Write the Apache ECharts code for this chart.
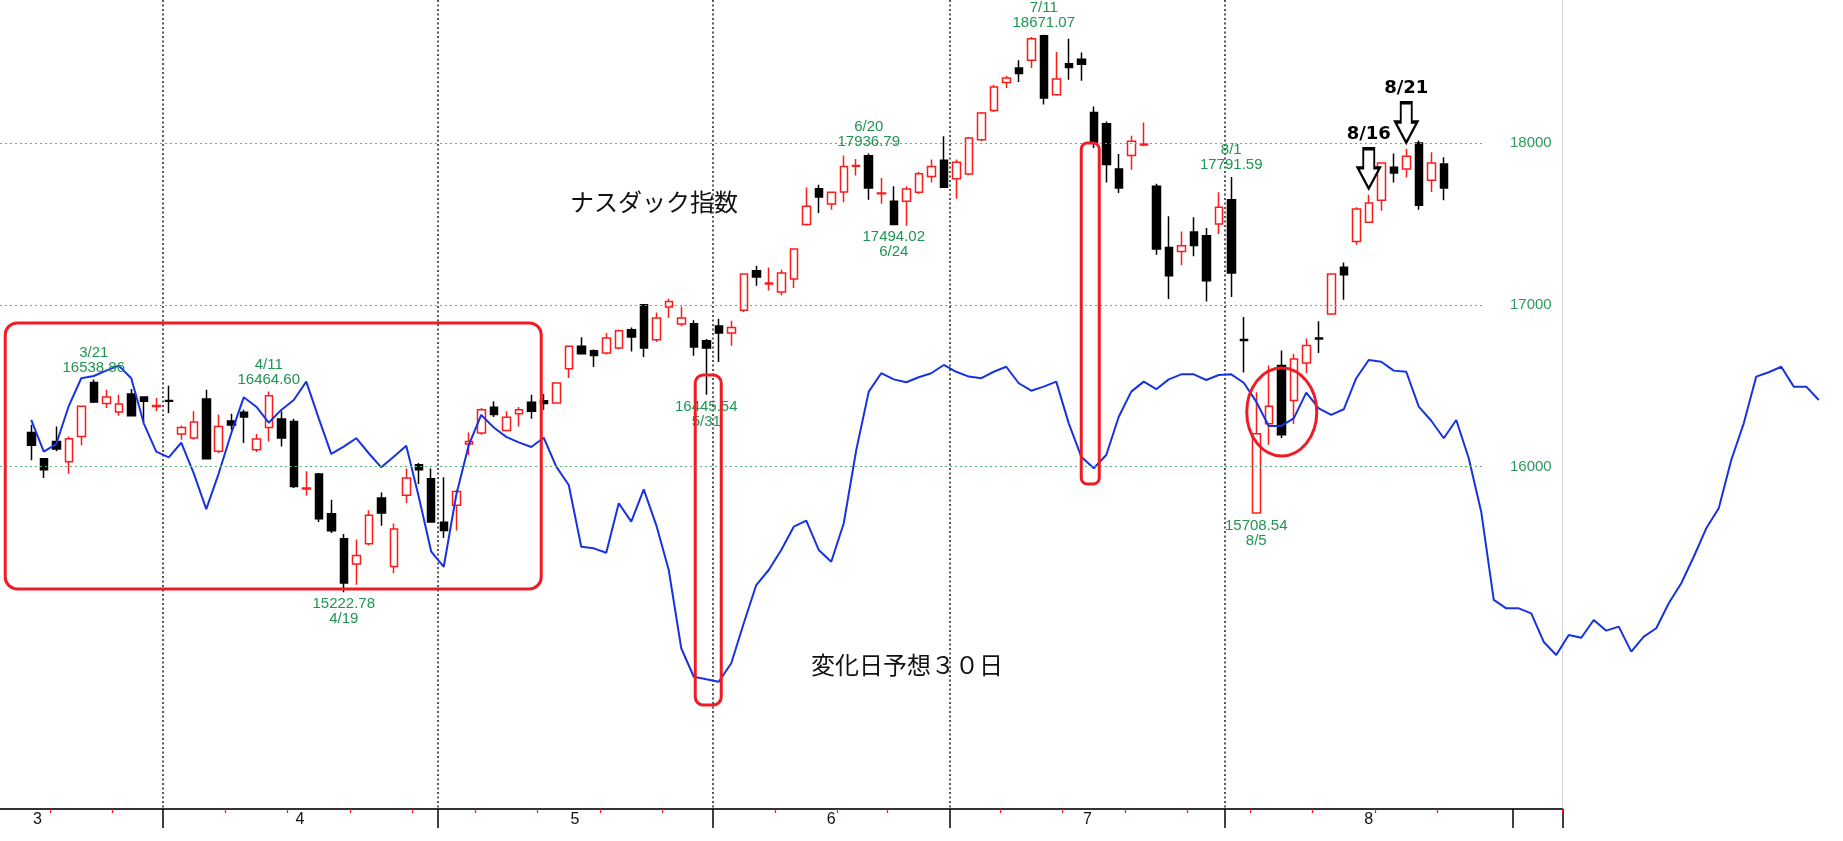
<!DOCTYPE html>
<html>
<head>
<meta charset="utf-8">
<script src="https://cdn.jsdelivr.net/npm/echarts@6/dist/echarts.min.js"></script>
<style>
html,body{margin:0;padding:0;background:#fff;}
#chart{width:1843px;height:841px;}
</style>
</head>
<body>
<div id="chart"></div>
<script>
// ---------------- DATA ----------------
const preSlots = ['3/12', '3/13'];
const dates = ['3/14','3/15','3/18','3/19','3/20','3/21','3/22','3/25','3/26','3/27','3/28',
 '4/1','4/2','4/3','4/4','4/5','4/8','4/9','4/10','4/11','4/12','4/15','4/16','4/17','4/18','4/19','4/22','4/23','4/24','4/25','4/26','4/29','4/30',
 '5/1','5/2','5/3','5/6','5/7','5/8','5/9','5/10','5/13','5/14','5/15','5/16','5/17','5/20','5/21','5/22','5/23','5/24','5/28','5/29','5/30','5/31',
 '6/3','6/4','6/5','6/6','6/7','6/10','6/11','6/12','6/13','6/14','6/17','6/18','6/20','6/21','6/24','6/25','6/26','6/27','6/28',
 '7/1','7/2','7/3','7/5','7/8','7/9','7/10','7/11','7/12','7/15','7/16','7/17','7/18','7/19','7/22','7/23','7/24','7/25','7/26','7/29','7/30','7/31',
 '8/1','8/2','8/5','8/6','8/7','8/8','8/9','8/12','8/13','8/14','8/15','8/16','8/19','8/20','8/21','8/22','8/23','8/26'];
const futureSlots = ['8/27','8/28','8/29','8/30','9/2','9/3','9/4','9/5','9/6','9/9','9/10','9/11','9/12','9/13',
 '9/16','9/17','9/18','9/19','9/20','9/23','9/24','9/25','9/26','9/27','9/30','10/1','10/2','10/3','10/4','10/7'];

const opens = [16212,16049,16156,16031,16187,16521,16390,16338,16450,16431,16372,
 16410,16202,16177,16419,16095,16282,16336,16105,16243,16295,16280,15862,15955,15709,15555,15398,15524,15806,15383,15823,16012,15926,
 15656,15761,16140,16208,16367,16224,16328,16398,16408,16394,16606,16744,16717,16703,16734,16847,17002,16785,16988,16883,16884,16779,
 16870,16827,16967,17212,17130,17080,17161,17497,17719,17625,17699,17858,17923,17688,17641,17641,17697,17795,17895,
 17781,17810,18022,18203,18376,18466,18513,18665,18300,18492,18519,18191,18121,17841,17925,17990,17734,17356,17331,17451,17428,17501,
 17651,16786,15714,16266,16625,16410,16641,16796,16944,17233,17393,17511,17647,17851,17841,18001,17771,17872];
const closes = [16132,15981,16109,16173,16373,16400,16431,16388,16315,16404,16379,
 16404,16243,16276,16049,16249,16258,16307,16171,16439,16177,15878,15868,15678,15604,15281,15451,15699,15714,15615,15930,15981,15658,
 15606,15847,16156,16352,16322,16305,16352,16342,16390,16517,16744,16699,16687,16796,16841,16802,16734,16920,17022,16920,16740,16734,
 16827,16860,17192,17173,17136,17198,17346,17610,17668,17697,17857,17863,17724,17693,17497,17717,17812,17857,17728,
 17882,18033,18187,18348,18403,18431,18647,18280,18397,18469,18489,18006,17868,17724,18012,17995,17346,17181,17367,17368,17150,17604,
 17198,16781,16204,16373,16198,16666,16750,16790,17192,17187,17594,17631,17878,17816,17919,17616,17878,17724];
const lows = [16039,15930,16095,15957,16132,16394,16363,16315,16312,16276,16342,
 16332,16167,16167,16045,16084,16229,16146,16090,16156,16125,15868,15821,15658,15590,15222.78,15270,15513,15635,15343,15776,15893,15655,
 15559,15606,16070,16198,16307,16220,16249,16297,16352,16390,16548,16693,16617,16693,16724,16713,16678,16771,16920,16868,16686,16445.54,
 16647,16748,16957,17119,17090,17059,17105,17490,17569,17589,17635,17800,17651,17626,17494.02,17490,17686,17758,17724,
 17657,17802,18012,18193,18342,18379,18466,18239,18294,18393,18387,17971,17758,17693,17837,17981,17311,17037,17245,17301,17022,17439,
 17049,16583,15708.54,16136,16177,16264,16579,16703,16940,17033,17373,17507,17583,17758,17789,17589,17699,17647];
const highs = [16260,16052,16249,16187,16377,16538.86,16476,16445,16481,16433,16425,
 16501,16254,16342,16476,16322,16328,16352,16202,16464.60,16342,16297,15971,15961,15796,15584,15549,15730,15841,15648,15988,16023,15988,
 15934,15858,16212,16363,16404,16342,16369,16445,16450,16520,16750,16800,16724,16827,16847,16861,17005,16954,17039,16991,16905,16790,
 16915,16903,17195,17243,17232,17218,17350,17727,17744,17701,17925,17903,17936.79,17785,17734,17734,17822,17899,18043,
 17899,18039,18193,18362,18418,18513,18657,18671.07,18565,18647,18562,18228,18135,17934,18047,18129,17750,17548,17455,17542,17476,17697,
 17791.59,16926,16460,16625,16719,16699,16792,16899,17195,17263,17604,17682,17882,17936,17966,18017,17944,17913];

// 変化日予想30日 (blue line), one value per day slot from 3/14
const forecast30 = [16289,16093,16140,16375,16547,16561,16594,16625,16547,16268,16093,
 16058,16148,15959,15737,15959,16207,16429,16371,16272,16351,16412,16526,16299,16079,16124,16176,16083,15996,16062,16130,15814,15474,
 15381,15825,16134,16320,16242,16184,16150,16122,16179,16000,15887,15505,15495,15468,15774,15660,15860,15639,15361,14877,14701,14685,
 14670,14784,15032,15268,15361,15485,15629,15666,15485,15412,15650,16103,16464,16578,16540,16522,16553,16578,16629,
 16587,16557,16547,16587,16618,16516,16470,16495,16526,16268,16062,15990,16072,16309,16464,16526,16479,16540,16571,16571,16536,16567,
 16571,16519,16402,16252,16252,16299,16458,16361,16320,16355,16547,16660,16649,16594,16587,16371,16284,16176,16289,16052,15720,15176,
 15124,15124,15093,14916,14835,14959,14942,15052,14986,15011,14856,14949,15001,15155,15279,15443,15619,15743,16041,16268,16557,16584,
 16618,16495,16495,16412];

const yTicks = [16000, 17000, 18000];
const monthLabels = ['3', '4', '5', '6', '7', '8'];
const monthLabelPos = [0.5, 21.5, 43.5, 64, 84.5, 107];
const monthTickIdx = [11, 33, 55, 74, 96, 119];
const monthLineIdx = [11, 33, 55, 74, 96];
const weekTickIdx = [2, 7, 16, 21, 26, 31, 36, 41, 46, 51, 60, 65, 69, 78, 83, 88, 93, 98, 103, 108, 113];
const highNotes = [5, 19, 67, 81, 96];
const lowNotes = [25, 54, 69, 98];
const arrowNotes = [107, 110];
const texts = { index: 'ナスダック指数', forecast: '変化日予想３０日' };

// ---------------- LAYOUT / STYLE ----------------
const yRange = [13883, 18886];
const slotW = 12.5;
const lead = preSlots.length;
const nA = 125;                          // slots in candle grid
const slotsAll = preSlots.concat(dates, futureSlots);
const slotsA = slotsAll.slice(0, nA);
const nD = monthLineIdx[monthLineIdx.length - 1] + lead;   // grid for month separators ends at last separator
const slotsD = slotsAll.slice(0, nD);
const halfSlots = Array.from({ length: 2 * nA + 1 }, (_, k) => 'h' + k);
const monthLabelHalf = monthLabelPos.map(p => Math.round(2 * (p + lead) + 1));
const SANS = "'Liberation Sans',Arial,sans-serif";
const GREEN = '#1f9552';
const RED = '#ff1a1a';
const ANNO = '#ee1c25';

const monthTickSet = new Set(monthTickIdx.map(i => i + lead));
const monthLineSet = new Set(monthLineIdx.map(i => i + lead));
const weekTickSet = new Set(weekTickIdx.map(i => i + lead));
const monthLabelSet = new Set(monthLabelHalf);

const candleData = dates.map((d, i) => [i + lead, opens[i], closes[i], lows[i], highs[i]]);
const lineData = forecast30.map((v, i) => [i + lead, v]);

const greenLabel = { show: true, color: GREEN, fontFamily: SANS, fontSize: 15, lineHeight: 15 };
const markPoints = [];
highNotes.forEach(i => markPoints.push({
  coord: [i + lead, highs[i]], symbol: 'circle', symbolSize: 1, itemStyle: { color: 'rgba(0,0,0,0)' },
  label: Object.assign({ position: 'top', distance: 4, formatter: dates[i] + '\n' + highs[i].toFixed(2) }, greenLabel)
}));
lowNotes.forEach(i => markPoints.push({
  coord: [i + lead, lows[i]], symbol: 'circle', symbolSize: 1, itemStyle: { color: 'rgba(0,0,0,0)' },
  label: Object.assign({ position: 'bottom', distance: 4, formatter: lows[i].toFixed(2) + '\n' + dates[i] }, greenLabel)
}));
const arrowPath = 'path://M25,0 L75,0 L75,48 L100,48 L50,100 L0,48 L25,48 Z';
arrowNotes.forEach(i => markPoints.push({
  coord: [i + lead, highs[i]], symbol: arrowPath, symbolSize: [22, 40], symbolKeepAspect: false,
  symbolOffset: [0, -26],
  itemStyle: { color: '#fff', borderColor: '#000', borderWidth: 2.5 },
  label: { show: true, position: 'top', distance: 4, formatter: dates[i], color: '#000',
    fontWeight: 'bold', fontSize: 18, fontFamily: "'DejaVu Sans',sans-serif" }
}));

const chart = echarts.init(document.getElementById('chart'), null, { renderer: 'canvas' });

const gridBase = { top: 0, bottom: 32, containLabel: false, outerBoundsMode: 'none' };
const option = {
  backgroundColor: '#ffffff',
  animation: false,
  title: [
    { text: texts.index, left: 570, top: 189, padding: 0,
      textStyle: { fontSize: 24, fontWeight: 'normal', color: '#111', fontFamily: "'Noto Sans CJK JP',sans-serif", lineHeight: 26 } },
    { text: texts.forecast, left: 811, top: 652, padding: 0,
      textStyle: { fontSize: 24, fontWeight: 'normal', color: '#111', fontFamily: "'Noto Sans CJK JP',sans-serif", lineHeight: 26 } }
  ],
  grid: [
    Object.assign({ left: 0, right: 1843 - nA * slotW }, gridBase),
    Object.assign({ left: 0, right: 1843 - slotsAll.length * slotW }, gridBase),
    Object.assign({ left: 0, right: 360 }, gridBase),
    Object.assign({ left: 0, right: 1843 - nD * slotW }, gridBase)
  ],
  xAxis: [
    { type: 'category', gridIndex: 0, position: 'bottom', data: slotsA, boundaryGap: true,
      axisLine: { show: true, lineStyle: { color: '#333', width: 2 } },
      axisTick: { show: true, interval: (i) => monthTickSet.has(i), length: 19, inside: false, lineStyle: { color: '#000', width: 1.5 } },
      axisLabel: { show: false }, splitLine: { show: false } },
    { type: 'category', gridIndex: 0, position: 'bottom', data: slotsA, boundaryGap: true,
      axisLine: { show: false },
      axisTick: { show: true, interval: (i) => weekTickSet.has(i), length: 4, inside: false, lineStyle: { color: RED, width: 1.2 } },
      axisLabel: { show: false }, splitLine: { show: false } },
    { type: 'value', gridIndex: 0, position: 'bottom', min: -lead - 0.5, max: nA - lead - 0.5, show: false },
    { type: 'category', gridIndex: 1, position: 'bottom', data: slotsAll, boundaryGap: true, show: false },
    { type: 'value', gridIndex: 2, position: 'bottom', min: 0, max: 1, show: false },
    { type: 'category', gridIndex: 3, position: 'bottom', data: slotsD, boundaryGap: true,
      axisLine: { show: false }, axisTick: { show: false }, axisLabel: { show: false },
      splitLine: { show: true, interval: (i) => monthLineSet.has(i), lineStyle: { color: '#222', width: 1.5, type: [2, 2.5] } } },
    { type: 'category', gridIndex: 0, position: 'bottom', data: halfSlots, boundaryGap: false,
      axisLine: { show: false }, axisTick: { show: false }, splitLine: { show: false },
      axisLabel: { show: true, interval: (k) => monthLabelSet.has(k), margin: 3, color: '#111', fontFamily: SANS, fontSize: 16,
        formatter: (v, k) => { const m = monthLabelHalf.indexOf(k); return m >= 0 ? monthLabels[m] : ''; } } }
  ],
  yAxis: [
    { type: 'value', gridIndex: 0, min: yRange[0], max: yRange[1], position: 'right',
      axisLine: { show: true, onZero: false, lineStyle: { color: '#d6d6d6', width: 1 } },
      axisTick: { show: false }, axisLabel: { show: false }, splitLine: { show: false } },
    { type: 'value', gridIndex: 1, min: yRange[0], max: yRange[1], show: false },
    { type: 'value', gridIndex: 2, min: yRange[0], max: yRange[1], show: false },
    { type: 'value', gridIndex: 3, min: yRange[0], max: yRange[1], show: false }
  ],
  series: [
    { type: 'line', xAxisIndex: 4, yAxisIndex: 2, data: [], z: 1, silent: true,
      markLine: { silent: true, symbol: 'none', animation: false,
        lineStyle: { color: '#52b57a', width: 1, type: [2, 3] },
        label: { show: true, position: 'end', distance: 27, formatter: (p) => String(p.value),
          color: '#2a9a5a', fontFamily: SANS, fontSize: 15 },
        data: yTicks.map(v => ({ yAxis: v })) } },
    { type: 'candlestick', name: 'NASDAQ', xAxisIndex: 0, yAxisIndex: 0, z: 2,
      data: candleData, encode: { x: 0, y: [1, 2, 3, 4] }, barWidth: 8,
      itemStyle: { color: '#ffffff', color0: '#000000', borderColor: RED, borderColor0: '#000000', borderWidth: 1.5 },
      markPoint: { animation: false, data: markPoints } },
    { type: 'line', name: 'forecast', xAxisIndex: 3, yAxisIndex: 1, z: 3, data: lineData,
      symbol: 'none', smooth: false, lineStyle: { color: '#1733e0', width: 2 } }
  ]
};
chart.setOption(option);

// red annotation shapes anchored to data coordinates (index from 3/14, price)
const annoBoxes = [
  { x0: -2.08, x1: 40.8, y0: 16889, y1: 15244, r: 12 },
  { x0: 53.12, x1: 55.2, y0: 16567, y1: 14526, r: 8 },
  { x0: 84.0, x1: 85.44, y0: 18002, y1: 15893, r: 6 }
];
const annoEllipse = { cx: 100.04, cy: 16338, rx: 2.8, ry: 272 };
const px = (v) => chart.convertToPixel({ xAxisIndex: 2 }, v);
const py = (v) => chart.convertToPixel({ yAxisIndex: 0 }, v);
const graphics = annoBoxes.map(b => {
  const x0 = px(b.x0), x1 = px(b.x1), y0 = py(b.y0), y1 = py(b.y1);
  return { type: 'rect', z: 100, silent: true,
    shape: { x: x0, y: y0, width: x1 - x0, height: y1 - y0, r: b.r },
    style: { fill: 'none', stroke: ANNO, lineWidth: 3 } };
});
{
  const cx = px(annoEllipse.cx), cy = py(annoEllipse.cy);
  const rx = Math.abs(px(annoEllipse.cx + annoEllipse.rx) - cx);
  const ry = Math.abs(py(annoEllipse.cy + annoEllipse.ry) - cy);
  graphics.push({ type: 'ellipse', z: 100, silent: true, shape: { cx: cx, cy: cy, rx: rx, ry: ry },
    style: { fill: 'none', stroke: ANNO, lineWidth: 3 } });
}
chart.setOption({ graphic: graphics });
</script>
</body>
</html>
